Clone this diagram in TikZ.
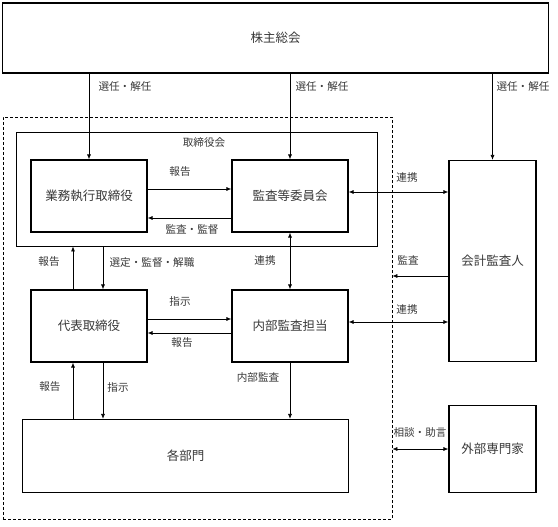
\documentclass[tikz,border=0pt]{standalone}
\usepackage{fontspec}
\setmainfont{Noto Sans CJK JP}
\usetikzlibrary{arrows.meta}
\definecolor{txt}{gray}{0.22}
\begin{document}
\begin{tikzpicture}[x=1pt,y=-1pt,
  box/.style={draw, line width=1.1pt, inner sep=0pt, text=txt, font=\fontsize{12.5}{14}\selectfont},
  lbl/.style={inner sep=0pt, text=txt, font=\fontsize{10.6}{12}\selectfont},
  arr/.style={-{Latex[length=5pt,width=4pt]}, line width=0.7pt},
  barr/.style={{Latex[length=5pt,width=4pt]}-{Latex[length=5pt,width=4pt]}, line width=0.7pt}]
\useasboundingbox (0,0) rectangle (558,527);
% frames
\node[draw, dash pattern=on 3pt off 2pt, line width=0.7pt, minimum width=389pt, minimum height=402pt, inner sep=0pt] (outer) at (197.5,318) {};
\node[draw, line width=0.8pt, minimum width=361pt, minimum height=114pt, inner sep=0pt] (tori) at (196.5,189) {};
\node[lbl] (torilbl) at (204,142) {取締役会};
% boxes
\node[box, minimum width=546pt, minimum height=70pt] (kabu) at (275.5,38) {株主総会};
\node[box, minimum width=116pt, minimum height=72pt] (gyomu) at (89,196) {業務執行取締役};
\node[box, minimum width=116pt, minimum height=72pt] (kansa) at (290,196) {監査等委員会};
\node[box, minimum width=116pt, minimum height=72pt] (daihyo) at (89,326) {代表取締役};
\node[box, minimum width=116pt, minimum height=72pt] (naibu) at (290,326) {内部監査担当};
\node[box, minimum width=326pt, minimum height=73pt] (kakubu) at (185.5,456) {各部門};
\node[box, minimum width=87pt, minimum height=201pt] (kaikei) at (492.5,261) {会計監査人};
\node[box, minimum width=87pt, minimum height=87pt] (gaibu) at (492.5,449) {外部専門家};
% election
\draw[arr] (kabu.south -| gyomu.north) -- (gyomu.north);
\draw[arr] (kabu.south -| kansa.north) -- (kansa.north);
\draw[arr] (kabu.south -| kaikei.north) -- (kaikei.north);
\node[lbl] (l1) at (125,86) {選任・解任};
\node[lbl] (l2) at (322,86) {選任・解任};
\node[lbl] (l3) at (523,86) {選任・解任};
% board internal
\draw[arr] (gyomu.east |- 0,189) -- (kansa.west |- 0,189);
\draw[arr] (kansa.west |- 0,218) -- (gyomu.east |- 0,218);
\node[lbl] (l4) at (180,172) {報告};
\node[lbl] (l5) at (192,229) {監査・監督};
% board <-> daihyo
\draw[arr] (daihyo.north -| 73,0) -- (tori.south -| 73,0);
\draw[arr] (tori.south -| 103,0) -- (daihyo.north -| 103,0);
\node[lbl] (l6) at (49,262) {報告};
\node[lbl] (l7) at (152,262) {選定・監督・解職};
\draw[barr] (kansa.south) -- (naibu.north);
\node[lbl] (l8) at (265,260) {連携};
% daihyo <-> naibu
\draw[arr] (daihyo.east |- 0,319) -- (naibu.west |- 0,319);
\draw[arr] (naibu.west |- 0,333) -- (daihyo.east |- 0,333);
\node[lbl] (l9) at (180,301) {指示};
\node[lbl] (l10) at (182,343) {報告};
% to departments
\draw[arr] (kakubu.north -| 73,0) -- (daihyo.south -| 73,0);
\draw[arr] (daihyo.south -| 103,0) -- (kakubu.north -| 103,0);
\draw[arr] (naibu.south) -- (naibu.south |- kakubu.north);
\node[lbl] (l11) at (50,387) {報告};
\node[lbl] (l12) at (118,387) {指示};
\node[lbl] (l13) at (258,377) {内部監査};
% external
\draw[barr] (kansa.east |- 0,192) -- (kaikei.west |- 0,192);
\draw[arr] (kaikei.west |- 0,276) -- (outer.east |- 0,276);
\draw[barr] (naibu.east |- 0,322) -- (kaikei.west |- 0,322);
\draw[barr] (outer.east |- gaibu.west) -- (gaibu.west);
\node[lbl] (l14) at (407,177) {連携};
\node[lbl] (l15) at (408,260) {監査};
\node[lbl] (l16) at (407,309) {連携};
\node[lbl] (l17) at (420,432) {相談・助言};
\end{tikzpicture}
\end{document}
